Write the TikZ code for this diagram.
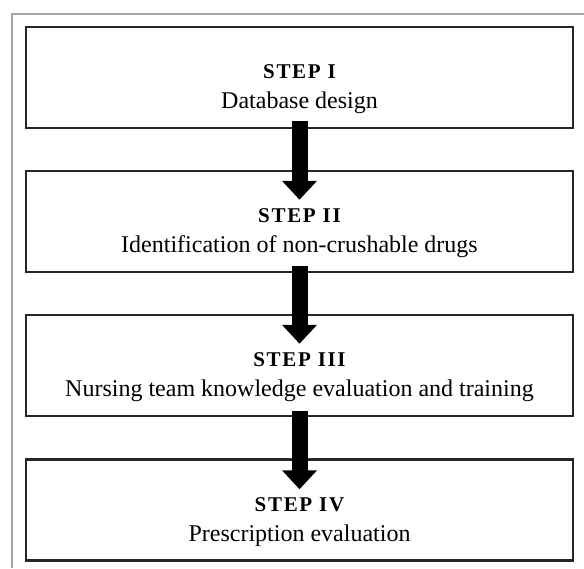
\documentclass[tikz,border=0pt]{standalone}
\usepackage{fontspec}
\setmainfont{Liberation Serif}
\newfontfamily\titlefont[LetterSpace=8]{Liberation Serif}
\usetikzlibrary{arrows.meta}
\begin{document}
\begin{tikzpicture}[x=1pt,y=-1pt,
  stepbox/.style={draw=black!85, line width=2.5pt, rectangle, minimum width=547pt, minimum height=101pt, inner sep=0pt},
  steptitle/.style={anchor=base, font=\fontsize{21}{24}\titlefont\bfseries, inner sep=0pt},
  steptext/.style={anchor=base, font=\fontsize{24}{28}\selectfont, inner sep=0pt},
  bigarrow/.style={line width=16pt, -{Triangle[width=34pt,length=19pt]}}]
\useasboundingbox (0,0) rectangle (584,568);
\fill[white] (0,0) rectangle (584,568);
\draw[gray!70, line width=1.5pt] (12,568) -- (12,14) -- (584,14);
\node[stepbox] (b1) at (299.5,77.5) {};
\node[stepbox] (b2) at (299.5,221.5) {};
\node[stepbox] (b3) at (299.5,365.5) {};
\node[stepbox] (b4) at (299.5,510) {};
\foreach \b/\t/\s in {b1/STEP I/Database design, b2/STEP II/Identification of non-crushable drugs, b3/STEP III/Nursing team knowledge evaluation and training, b4/STEP IV/Prescription evaluation}{
  \node[steptitle] (\b t) at ([yshift=-53pt]\b.north) {\t};
  \node[steptext] (\b s) at ([yshift=-83pt]\b.north) {\s};
}
\draw[bigarrow] ([yshift=8pt]b1.south) -- ([yshift=-30pt]b2.north);
\draw[bigarrow] ([yshift=7pt]b2.south) -- ([yshift=-30pt]b3.north);
\draw[bigarrow] ([yshift=6pt]b3.south) -- ([yshift=-31pt]b4.north);
\end{tikzpicture}
\end{document}
